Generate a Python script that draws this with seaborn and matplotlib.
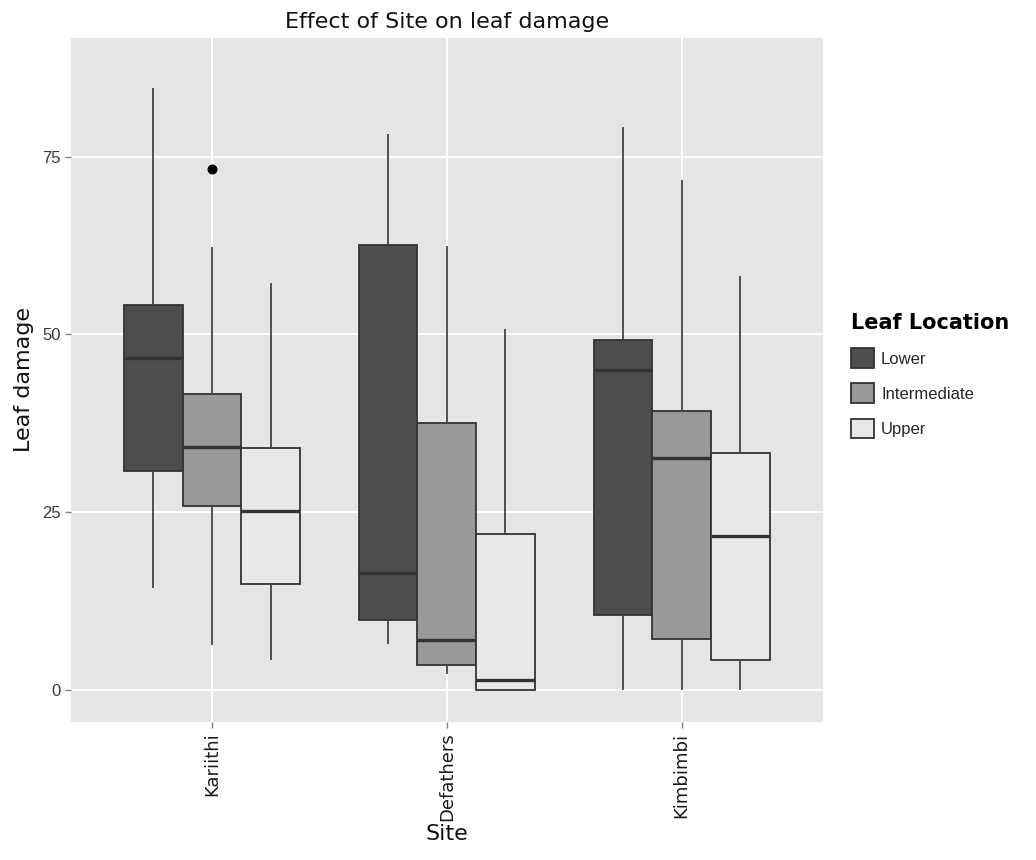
import pandas as pd
import seaborn as sns
import matplotlib.pyplot as plt
import numpy as np

sites = ["Kariithi", "Defathers", "Kimbimbi"]
locations = ["Lower", "Intermediate", "Upper"]

# five-number summaries read off the boxes:
# lower whisker, Q1, median, Q3, upper whisker
kariithi_lower = [14.3, 30.8, 46.7, 54.1, 84.7]
kariithi_inter = [6.3, 25.9, 34.2, 41.6, 62.3]
kariithi_upper = [4.2, 14.9, 25.2, 34.1, 57.3]

defathers_lower = [6.5, 9.8, 16.4, 62.6, 78.2]
defathers_inter = [2.3, 3.5, 7.0, 37.5, 62.4]
defathers_upper = [0.0, 0.05, 1.4, 22.0, 50.8]

kimbimbi_lower = [0.0, 10.6, 45.0, 49.2, 79.2]
kimbimbi_inter = [0.0, 7.2, 32.6, 39.2, 71.7]
kimbimbi_upper = [0.0, 4.2, 21.6, 33.4, 58.2]

# the single outlier point
outlier_site = "Kariithi"
outlier_value = 73.3

fills = ["#4D4D4D", "#999999", "#E8E8E8"]

summaries = {
    ("Kariithi", "Lower"): kariithi_lower,
    ("Kariithi", "Intermediate"): kariithi_inter,
    ("Kariithi", "Upper"): kariithi_upper,
    ("Defathers", "Lower"): defathers_lower,
    ("Defathers", "Intermediate"): defathers_inter,
    ("Defathers", "Upper"): defathers_upper,
    ("Kimbimbi", "Lower"): kimbimbi_lower,
    ("Kimbimbi", "Intermediate"): kimbimbi_inter,
    ("Kimbimbi", "Upper"): kimbimbi_upper,
}
rows = []
for (site, loc), vals in summaries.items():
    for v in vals:
        rows.append({"Site": site, "Location": loc, "damage": v})
df = pd.DataFrame(rows)

sns.set_theme(style="white")
plt.rcParams["font.family"] = ["DejaVu Sans"]

fig = plt.figure(figsize=(10.36, 8.6), dpi=100)
ax = fig.add_axes([0.0685, 0.1605, 0.7255, 0.7953])
ax.set_facecolor("#E5E5E5")

sns.boxplot(
    data=df, x="Site", y="damage", hue="Location",
    order=sites, hue_order=locations, palette=fills,
    width=0.75, gap=0, whis=(0, 100), showcaps=False, fliersize=0,
    linecolor="#333333", linewidth=1.3,
    medianprops=dict(linewidth=2.4, color="#333333"),
    whiskerprops=dict(color="#444444"),
    ax=ax, zorder=3,
)

# outlier sits on the middle (Intermediate) box, so no dodge offset
ax.scatter(sites.index(outlier_site), outlier_value, s=38, color="black", zorder=5)

ax.set_xlim(-0.6, 2.6)
ax.set_ylim(-4.5, 91.7)
ax.set_yticks([0, 25, 50, 75])
ax.set_yticklabels(["0", "25", "50", "75"], family="Liberation Sans", fontsize=12, color="#3A3A3A")
ax.grid(True, color="white", linewidth=1.4, zorder=0)
ax.set_axisbelow(True)
for s in ax.spines.values():
    s.set_visible(False)
ax.tick_params(axis="both", length=4, width=1, color="#7F7F7F", bottom=True, left=True)
ax.tick_params(axis="x", labelrotation=90, labelsize=13, labelcolor="#1A1A1A")

ax.set_title("Effect of Site on leaf damage", fontsize=16, pad=7, color="#111111")
ax.set_xlabel("Site", fontsize=16, labelpad=2, color="#111111")
ax.set_ylabel("Leaf damage", fontsize=16, labelpad=6, color="#111111")

sns.move_legend(ax, "center left", bbox_to_anchor=(1.018, 0.507), frameon=False,
                title="Leaf Location", prop={"family": "Liberation Sans", "size": 12},
                handlelength=1.4, handleheight=1.4, labelspacing=0.95, handletextpad=0.4)
leg = ax.get_legend()
leg.get_title().set_fontweight("bold")
leg.get_title().set_fontsize(15)
leg.get_title().set_color("black")
leg._legend_box.align = "left"

fig.savefig("out.png", dpi=100)
